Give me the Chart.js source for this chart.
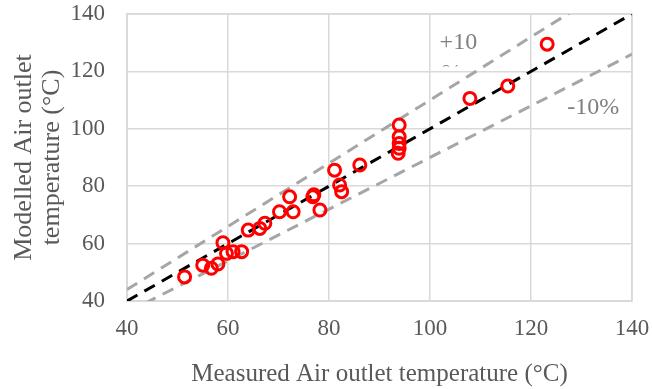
<!DOCTYPE html>
<html>
<head>
<meta charset="utf-8">
<script src="https://cdn.jsdelivr.net/npm/chart.js@4"></script>
<style>
  html, body { margin: 0; padding: 0; background: #fff; }
  #wrap { width: 652px; height: 389px; }
</style>
</head>
<body>
<div id="wrap"><canvas id="chart"></canvas></div>
<script>
// measured vs modelled air outlet temperature (°C)
const measured = [51.4, 55.0, 56.7, 58.0, 59.0, 59.7, 61.0, 62.7, 64.0, 66.3, 67.3, 70.2, 72.2, 72.9, 76.8, 77.0, 78.2, 81.1, 82.1, 82.5, 86.1, 93.9, 93.9, 93.9, 93.9, 93.7, 107.9, 115.4, 123.2]
const modelled = [48.4, 52.5, 51.4, 52.9, 60.3, 56.6, 57.2, 57.2, 64.7, 65.3, 67.1, 71.1, 76.3, 71.1, 76.3, 77.0, 71.7, 85.6, 80.4, 78.1, 87.4, 101.3, 97.2, 94.9, 93.2, 91.5, 110.6, 114.9, 129.5]

// reference lines: 1:1 and +/-10 %
const lineX = [40, 140]
const perfect = [40, 140]
const plus10 = [44, 154]
const minus10 = [36, 126]

const axisMin = 40
const axisMax = 140
const axisStep = 20

const toPoints = (xs, ys) => xs.map((x, i) => ({ x, y: ys[i] }))

const FONT = "'Liberation Serif', 'Times New Roman', serif"
const TEXT = '#595959'
const GRID = '#d9d9d9'

// "+10%" / "-10%" annotations, placed in data units
const bandLabels = {
  id: 'bandLabels',
  afterDatasetsDraw(chart) {
    const { ctx, scales: { x, y }, chartArea } = chart
    ctx.save()
    ctx.fillStyle = '#7f7f7f'
    ctx.font = '24px ' + FONT
    ctx.textBaseline = 'middle'
    ctx.textAlign = 'left'
    ctx.fillText('+10', x.getPixelForValue(101.9), y.getPixelForValue(129.9))
    // the "%" wraps to a second line that is mostly cut off
    ctx.save()
    ctx.beginPath()
    ctx.rect(chartArea.left, chartArea.top, chartArea.width, y.getPixelForValue(120) - chartArea.top - 5)
    ctx.clip()
    ctx.fillText('%', x.getPixelForValue(102.3), y.getPixelForValue(129.9) + 31)
    ctx.restore()
    ctx.fillText('-10%', x.getPixelForValue(127.2), y.getPixelForValue(107.2))
    ctx.restore()
  }
}

// border on top and right of the plot area, like the reference frame
const frame = {
  id: 'frame',
  beforeDatasetsDraw(chart) {
    const { ctx, chartArea } = chart
    ctx.save()
    ctx.strokeStyle = GRID
    ctx.lineWidth = 1.5
    ctx.strokeRect(chartArea.left, chartArea.top, chartArea.width, chartArea.height)
    ctx.restore()
  }
}

const noPad = scale => {
  scale.paddingTop = 0
  scale.paddingBottom = 0
  scale.paddingLeft = 0
  scale.paddingRight = 0
}

const data = {
  datasets: [
    {
      type: 'scatter',
      label: 'Data',
      data: toPoints(measured, modelled),
      pointStyle: 'circle',
      pointRadius: 6,
      pointBorderWidth: 3,
      borderColor: '#ff0000',
      backgroundColor: 'rgba(255,255,255,0)'
    },
    {
      type: 'line',
      label: '1:1',
      data: toPoints(lineX, perfect),
      borderColor: '#000000',
      borderWidth: 3,
      borderDash: [12, 8],
      pointRadius: 0,
      fill: false
    },
    {
      type: 'line',
      label: '+10%',
      data: toPoints(lineX, plus10),
      borderColor: '#a6a6a6',
      borderWidth: 3,
      borderDash: [12, 8],
      pointRadius: 0,
      fill: false
    },
    {
      type: 'line',
      label: '-10%',
      data: toPoints(lineX, minus10),
      borderColor: '#a6a6a6',
      borderWidth: 3,
      borderDash: [12, 8],
      pointRadius: 0,
      fill: false
    }
  ]
}

const config = {
  type: 'scatter',
  data,
  plugins: [bandLabels, frame],
  options: {
    responsive: false,
    animation: false,
    devicePixelRatio: 1,
    layout: {
      padding: { top: 14, right: 20, left: 0, bottom: 0 }
    },
    plugins: {
      legend: { display: false },
      tooltip: { enabled: false }
    },
    scales: {
      x: {
        type: 'linear',
        min: axisMin,
        max: axisMax,
        afterFit: scale => { scale.height = 88; noPad(scale) },
        ticks: {
          stepSize: axisStep,
          padding: 14,
          color: TEXT,
          font: { family: FONT, size: 23 }
        },
        grid: { color: GRID, lineWidth: 1.5, drawTicks: false },
        border: { color: GRID, width: 1.5 },
        title: {
          display: true,
          text: 'Measured Air outlet temperature (°C)',
          color: TEXT,
          font: { family: FONT, size: 25 },
          padding: { top: 2, bottom: 0 }
        }
      },
      y: {
        type: 'linear',
        min: axisMin,
        max: axisMax,
        afterFit: scale => { scale.width = 127; noPad(scale) },
        ticks: {
          stepSize: axisStep,
          padding: 22,
          color: TEXT,
          font: { family: FONT, size: 23 }
        },
        grid: { color: GRID, lineWidth: 1.5, drawTicks: false },
        border: { color: GRID, width: 1.5 },
        title: {
          display: true,
          text: ['Modelled Air outlet', 'temperature (°C)'],
          color: TEXT,
          font: { family: FONT, size: 26, lineHeight: 1.05 },
          padding: { top: 11, bottom: 0 }
        }
      }
    }
  }
}

const canvas = document.getElementById('chart')
canvas.width = 652
canvas.height = 389
new Chart(canvas.getContext('2d'), config)
</script>
</body>
</html>
